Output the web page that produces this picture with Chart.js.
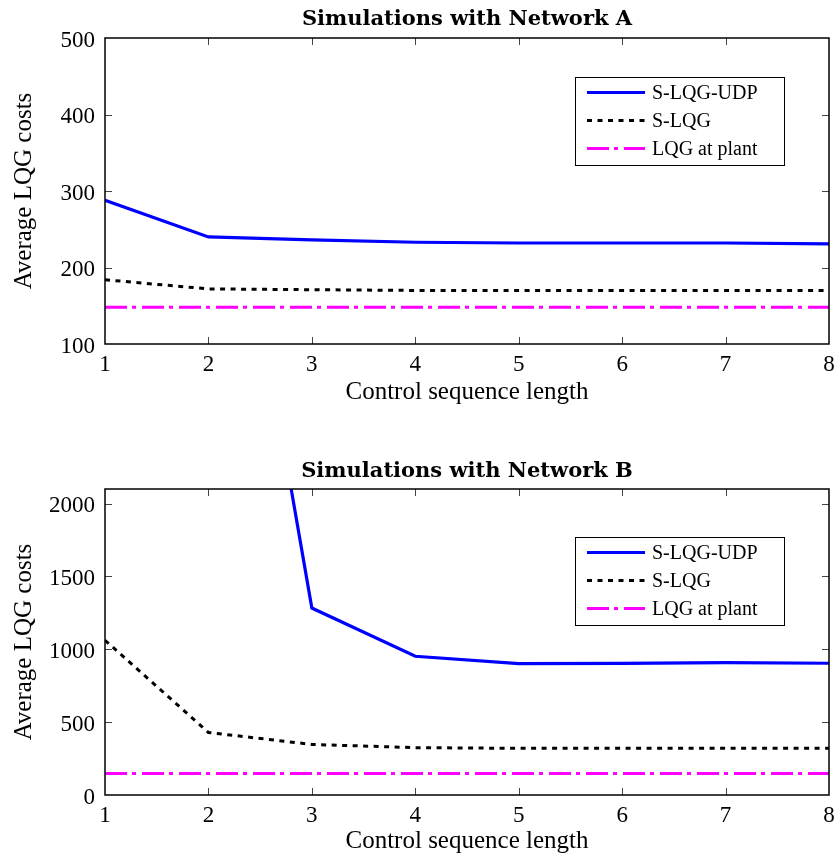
<!DOCTYPE html>
<html>
<head>
<meta charset="utf-8">
<script src="https://cdn.jsdelivr.net/npm/chart.js@4.4.1/dist/chart.umd.min.js"></script>
<style>
    html, body { margin: 0; padding: 0; background: #fff; }
    #wrap { position: relative; width: 837px; height: 856px; background: #fff; }
    .panel { position: absolute; left: 0; width: 837px; }
</style>
</head>
<body>
<div id="wrap">
    <div class="panel" style="top:0;height:420px"><canvas id="chartA"></canvas></div>
    <div class="panel" style="top:420px;height:436px"><canvas id="chartB"></canvas></div>
</div>
<script>
// x values (control sequence length)
const sequenceLengths = [1, 2, 3, 4, 5, 6, 7, 8];

// Network A
const netA_slqgUdp = [288, 240, 236, 233, 232, 232, 232, 231];
const netA_slqg = [184, 172, 171, 170, 170, 170, 170, 170];
const netA_lqgPlant = [148, 148, 148, 148, 148, 148, 148, 148];
const netA_yTicks = [100, 200, 300, 400, 500];

// Network B (first S-LQG-UDP points are far above the axis)
const netB_slqgUdp = [9000, 5370, 1283, 952, 902, 903, 908, 904];
const netB_slqg = [1062, 429, 347, 325, 320, 320, 320, 320];
const netB_lqgPlant = [148, 148, 148, 148, 148, 148, 148, 148];
const netB_yTicks = [0, 500, 1000, 1500, 2000];

const seriesNames = ['S-LQG-UDP', 'S-LQG', 'LQG at plant'];

const SERIF = '"Liberation Serif", "Times New Roman", serif';
const TITLE_SERIF = '"DejaVu Serif", serif';

function toPoints(values) {
    return sequenceLengths.map((x, i) => ({ x: x, y: values[i] }));
}

// box around the plot with inward ticks on all four sides (matlab look)
const framePlugin = {
    id: 'frame',
    afterDraw(chart) {
        const { ctx, chartArea: a, scales } = chart;
        const tickLen = 7;
        ctx.save();
        ctx.strokeStyle = '#444';
        ctx.lineWidth = 1;
        ctx.beginPath();
        scales.x.ticks.forEach(t => {
            const px = Math.round(scales.x.getPixelForValue(t.value)) + 0.5;
            if (px <= a.left + 1 || px >= a.right - 1) return;
            ctx.moveTo(px, a.bottom); ctx.lineTo(px, a.bottom - tickLen);
            ctx.moveTo(px, a.top); ctx.lineTo(px, a.top + tickLen);
        });
        scales.y.ticks.forEach(t => {
            const py = Math.round(scales.y.getPixelForValue(t.value)) + 0.5;
            if (py <= a.top + 1 || py >= a.bottom - 1) return;
            ctx.moveTo(a.left, py); ctx.lineTo(a.left + tickLen, py);
            ctx.moveTo(a.right, py); ctx.lineTo(a.right - tickLen, py);
        });
        ctx.stroke();
        ctx.strokeStyle = '#000';
        ctx.lineWidth = 1.5;
        ctx.strokeRect(a.left, a.top, a.right - a.left, a.bottom - a.top);
        ctx.restore();
    }
};

// legend box inside the plot, upper right
const boxLegendPlugin = {
    id: 'boxLegend',
    afterDraw(chart, args, opts) {
        const { ctx, chartArea: a } = chart;
        const w = 209, h = 88;
        const left = a.right - opts.right - w;
        const top = a.top + opts.top;
        ctx.save();
        ctx.fillStyle = '#fff';
        ctx.fillRect(left, top, w, h);
        ctx.strokeStyle = '#000';
        ctx.lineWidth = 1;
        ctx.strokeRect(left + 0.5, top + 0.5, w, h);
        ctx.font = '20px ' + SERIF;
        ctx.textBaseline = 'middle';
        chart.data.datasets.forEach((ds, i) => {
            const y = top + 15.5 + i * 28;
            ctx.strokeStyle = ds.borderColor;
            ctx.lineWidth = ds.borderWidth;
            ctx.setLineDash(ds.borderDash || []);
            ctx.beginPath();
            ctx.moveTo(left + 12, y);
            ctx.lineTo(left + 70, y);
            ctx.stroke();
            ctx.setLineDash([]);
            ctx.fillStyle = '#000';
            ctx.fillText(ds.label, left + 77, y + 1);
        });
        ctx.restore();
    }
};

function makeChart(canvasId, cfg) {
    const datasets = [
        { label: seriesNames[0], data: toPoints(cfg.udp), borderColor: '#0000ff', borderWidth: 3.2, borderDash: [] },
        { label: seriesNames[1], data: toPoints(cfg.slqg), borderColor: '#000000', borderWidth: 3, borderDash: [5, 5.5] },
        { label: seriesNames[2], data: toPoints(cfg.plant), borderColor: '#ff00ff', borderWidth: 3, borderDash: [22, 5, 4, 6] }
    ];
    datasets.forEach(ds => {
        ds.pointRadius = 0;
        ds.tension = 0;
        ds.clip = 0;
        ds.fill = false;
    });

    return new Chart(document.getElementById(canvasId), {
        type: 'line',
        data: { datasets: datasets },
        options: {
            responsive: true,
            maintainAspectRatio: false,
            animation: false,
            layout: { padding: { left: 0, right: 8, top: 0, bottom: 0 } },
            plugins: {
                legend: { display: false },
                tooltip: { enabled: false },
                title: {
                    display: true,
                    text: cfg.title,
                    fullSize: false,
                    color: '#000',
                    font: { family: TITLE_SERIF, size: 21, weight: 'bold' },
                    padding: { top: cfg.titlePadTop, bottom: cfg.titlePadBottom }
                },
                boxLegend: { right: 45, top: cfg.legendTop }
            },
            scales: {
                x: {
                    type: 'linear',
                    min: 1,
                    max: 8,
                    grid: { display: false, drawTicks: false },
                    border: { display: false },
                    afterBuildTicks: scale => { scale.ticks = sequenceLengths.map(v => ({ value: v })); },
                    afterFit: scale => {
                        scale.height = cfg.xHeight;
                        scale.paddingLeft = 0;
                        scale.paddingRight = 0;
                    },
                    ticks: {
                        color: '#000',
                        padding: 7,
                        maxRotation: 0,
                        font: { family: SERIF, size: 23 }
                    },
                    title: {
                        display: true,
                        text: 'Control sequence length',
                        color: '#000',
                        font: { family: SERIF, size: 25 },
                        padding: { top: 0, bottom: cfg.xTitlePad }
                    }
                },
                y: {
                    min: cfg.yMin,
                    max: cfg.yMax,
                    grid: { display: false, drawTicks: false },
                    border: { display: false },
                    afterBuildTicks: scale => { scale.ticks = cfg.yTicks.map(v => ({ value: v })); },
                    afterFit: scale => {
                        scale.width = 105;
                        scale.paddingTop = 0;
                        scale.paddingBottom = 0;
                    },
                    ticks: {
                        color: '#000',
                        padding: 10,
                        labelOffset: 2.5,
                        font: { family: SERIF, size: 23 },
                        callback: v => String(v)
                    },
                    title: {
                        display: true,
                        text: 'Average LQG costs',
                        color: '#000',
                        font: { family: SERIF, size: 25 },
                        padding: { top: 9, bottom: 0 }
                    }
                }
            }
        },
        plugins: [framePlugin, boxLegendPlugin]
    });
}

makeChart('chartA', {
    title: 'Simulations with Network A',
    udp: netA_slqgUdp, slqg: netA_slqg, plant: netA_lqgPlant,
    yMin: 100, yMax: 500, yTicks: netA_yTicks,
    titlePadTop: 6.5, titlePadBottom: 6.3,
    xHeight: 76, xTitlePad: 12.5,
    legendTop: 39
});

makeChart('chartB', {
    title: 'Simulations with Network B',
    udp: netB_slqgUdp, slqg: netB_slqg, plant: netB_lqgPlant,
    yMin: 0, yMax: 2100, yTicks: netB_yTicks,
    titlePadTop: 38.5, titlePadBottom: 5.3,
    xHeight: 61, xTitlePad: 0,
    legendTop: 48
});
</script>
</body>
</html>
